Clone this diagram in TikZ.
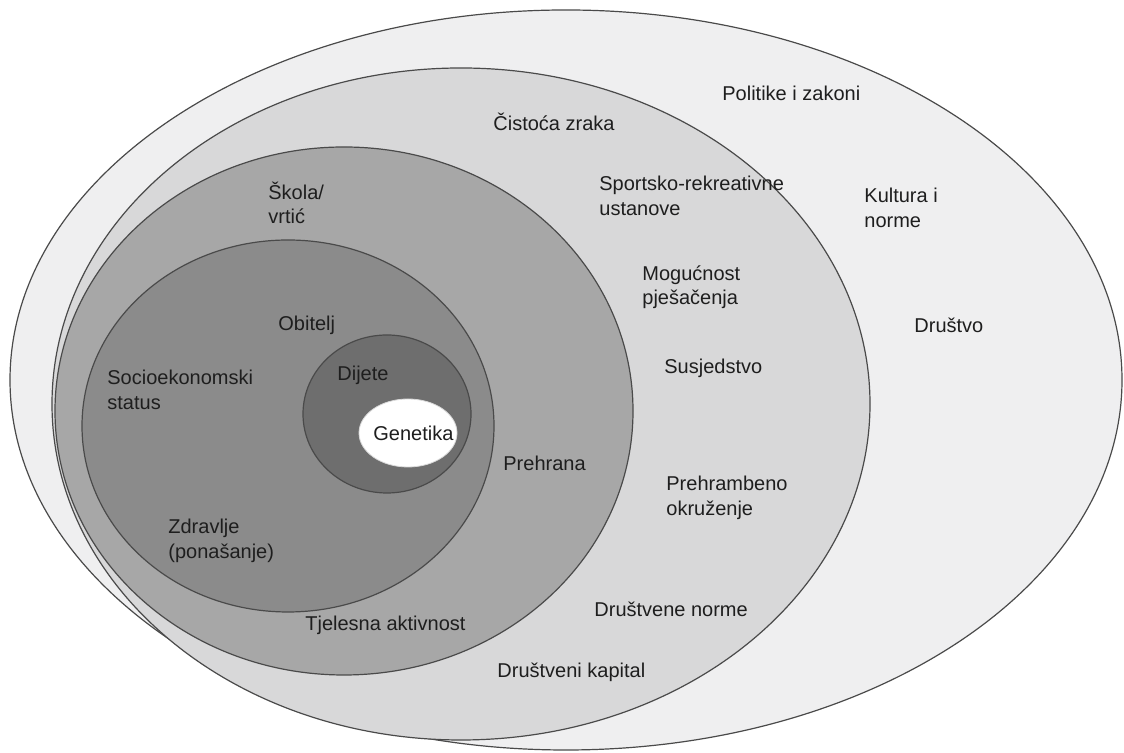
\documentclass[tikz,border=0pt]{standalone}
\usepackage{fontspec}
\setmainfont{Liberation Sans}
\definecolor{drustvo}{HTML}{EFEFF0}
\definecolor{zajednica}{HTML}{D8D8D9}
\definecolor{skola}{HTML}{A7A7A7}
\definecolor{obitelj}{HTML}{8B8B8B}
\definecolor{dijete}{HTML}{6E6E6E}
\definecolor{rub}{HTML}{4A4A4A}
\definecolor{tekst}{HTML}{1E1E1E}
\begin{document}
\begin{tikzpicture}[x=0.5pt,y=0.5pt,
    zona/.style={draw=rub,line width=0.6pt},
    oznaka/.style={anchor=west,inner sep=0pt,align=left,text=tekst,
      font=\fontsize{10}{12.2}\selectfont}]
            \useasboundingbox (0,0) rectangle (1124,753);
            \fill[white] (0,0) rectangle (1124,753);

            \draw[zona,fill=drustvo] (566,373) ellipse (556 and 370);
            \draw[zona,fill=zajednica] (461,349) ellipse (409 and 336);
            \draw[zona,fill=skola] (344,342) ellipse (289 and 264);
            \draw[zona,fill=obitelj] (288,327) ellipse (206 and 186);
            \draw[zona,fill=dijete] (387,339) ellipse (84 and 79);
            \draw[draw=white!85!black,line width=0.4pt,fill=white] (408,320) ellipse (49 and 34);

            \node[oznaka] (PZ) at (722,660) {Politike i zakoni};
            \node[oznaka] (KN) at (864,545) {Kultura i\\norme};
            \node[oznaka] (DR) at (914,428) {Društvo};

            \node[oznaka] (CZ) at (493,631) {Čistoća zraka};
            \node[oznaka] (SR) at (599,557) {Sportsko-rekreativne\\ustanove};
            \node[oznaka] (MP) at (642,466) {Mogućnost\\pješačenja};
            \node[oznaka] (SU) at (664,385) {Susjedstvo};
            \node[oznaka] (PO) at (666,255) {Prehrambeno\\okruženje};
            \node[oznaka] (DN) at (594,144) {Društvene norme};
            \node[oznaka] (DK) at (497,81) {Društveni kapital};

            \node[oznaka] (SV) at (268,550) {Škola/\\vrtić};
            \node[oznaka] (PR) at (503,290) {Prehrana};
            \node[oznaka] (TA) at (305,128) {Tjelesna aktivnost};

            \node[oznaka] (OB) at (278,428) {Obitelj};
            \node[oznaka] (SS) at (107,363) {Socioekonomski\\status};
            \node[oznaka] (ZP) at (168,212) {Zdravlje\\(ponašanje)};

            \node[oznaka] (DI) at (337,378) {Dijete};
            \node[oznaka] (GE) at (373,320) {Genetika};
          \end{tikzpicture}
\end{document}
